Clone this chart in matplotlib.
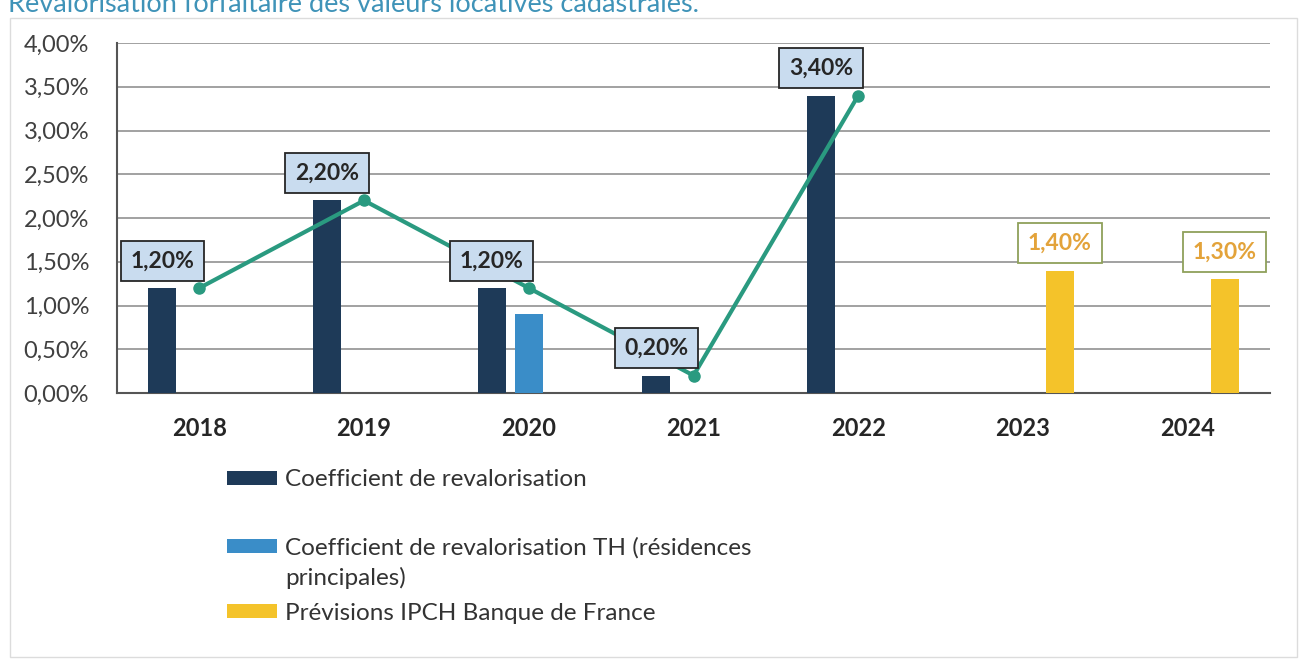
import matplotlib
matplotlib.use("Agg")
import matplotlib.pyplot as plt
import numpy as np
from matplotlib.ticker import FuncFormatter, MultipleLocator
from matplotlib.patches import Rectangle

plt.rcParams['font.family'] = ['Lato', 'DejaVu Sans']

# ---- data ----
years = ["2018", "2019", "2020", "2021", "2022", "2023", "2024"]
coef = [1.2, 2.2, 1.2, 0.2, 3.4, np.nan, np.nan]          # Coefficient de revalorisation
coef_th = [np.nan, np.nan, 0.9, np.nan, np.nan, np.nan, np.nan]  # TH (résidences principales)
ipch = [np.nan, np.nan, np.nan, np.nan, np.nan, 1.4, 1.3]  # Prévisions IPCH Banque de France
line_vals = [1.2, 2.2, 1.2, 0.2, 3.4, np.nan, np.nan]
coef_labels = ["1,20%", "2,20%", "1,20%", "0,20%", "3,40%"]
ipch_labels = ["1,40%", "1,30%"]
legend_labels = ["Coefficient de revalorisation",
                 "Coefficient de revalorisation TH (résidences",
                 "Prévisions IPCH Banque de France"]
legend_cont = "principales)"
title = "Revalorisation forfaitaire des valeurs locatives cadastrales."

# ---- style ----
c_dark = "#1e3a58"
c_light = "#3a8dc8"
c_yellow = "#f4c32a"
c_line = "#2a9a80"
W, H = 1301, 660

fig = plt.figure(figsize=(W / 100, H / 100), dpi=100)
ax = fig.add_axes([117 / W, 1 - 393 / H, (1270 - 117) / W, (393 - 43) / H])

x = np.arange(len(years))
bw = 0.17
off = 0.225
b1 = ax.bar(x - off, coef, bw, color=c_dark, zorder=3)
b2 = ax.bar(x, coef_th, bw, color=c_light, zorder=3)
b3 = ax.bar(x + off, ipch, bw, color=c_yellow, zorder=3)
ax.plot(x, line_vals, color=c_line, lw=3, marker="o", ms=8, zorder=4)

# data labels
lab_fs = 16.5
for xi, v, lab in zip(x[:5] - off, coef[:5], coef_labels):
    ax.annotate(lab, (xi, v), xytext=(0, 12), textcoords="offset points",
                ha="center", va="bottom", fontsize=lab_fs, fontweight="bold",
                color="#262626", zorder=6,
                bbox=dict(boxstyle="square,pad=0.42", fc="#c9dcef", ec="#262626", lw=1.3))
for xi, v, lab in zip(x[5:] + off, ipch[5:], ipch_labels):
    ax.annotate(lab, (xi, v), xytext=(0, 12), textcoords="offset points",
                ha="center", va="bottom", fontsize=lab_fs, fontweight="bold",
                color="#e3a33a", zorder=6,
                bbox=dict(boxstyle="square,pad=0.42", fc="white", ec="#8fa05a", lw=1.3))

ax.set_xlim(-0.5, len(years) - 0.5)
ax.set_ylim(0, 4)
ax.yaxis.set_major_locator(MultipleLocator(0.5))
ax.yaxis.set_major_formatter(FuncFormatter(lambda v, p: f"{v:.2f}%".replace(".", ",")))
ax.set_xticks(x)
ax.set_xticklabels(years, fontsize=17, fontweight="bold", color="#262626")
ax.tick_params(axis="x", length=0, pad=17)
ax.tick_params(axis="y", length=0, pad=20, labelsize=17, labelcolor="#404040")
ax.grid(axis="y", color="#9a9a9a", lw=1.3, zorder=0)
ax.set_axisbelow(True)
for s in ["top", "right"]:
    ax.spines[s].set_visible(False)
for s in ["left", "bottom"]:
    ax.spines[s].set_color("#555555")
    ax.spines[s].set_linewidth(1.5)

# legend (three entries, placed like the original)
leg_fs = 17.5
handles = [b1, b2, b3]
ys = [480, 548, 613]
for h, lab, yy in zip(handles, legend_labels, ys):
    fig.legend([h], [lab], loc="center left", bbox_to_anchor=(227 / W, 1 - yy / H),
               frameon=False, fontsize=leg_fs, handlelength=2.05, handleheight=0.55,
               handletextpad=0.33, labelcolor="#333333", borderpad=0, borderaxespad=0)
fig.text(285 / W, 1 - 578 / H, legend_cont, fontsize=leg_fs, color="#333333",
         ha="left", va="center")

# title (partially cut at the top, as in the original)
fig.text(8 / W, 1 - 12 / H, title, fontsize=19.5, color="#3f93b8", ha="left", va="baseline")

# chart frame
fig.add_artist(Rectangle((10 / W, 1 - 657 / H), (1297 - 10) / W, (657 - 18) / H,
                         transform=fig.transFigure, fill=False, ec="#dcdcdc", lw=1))

fig.savefig("out.png", dpi=100, facecolor="white")
